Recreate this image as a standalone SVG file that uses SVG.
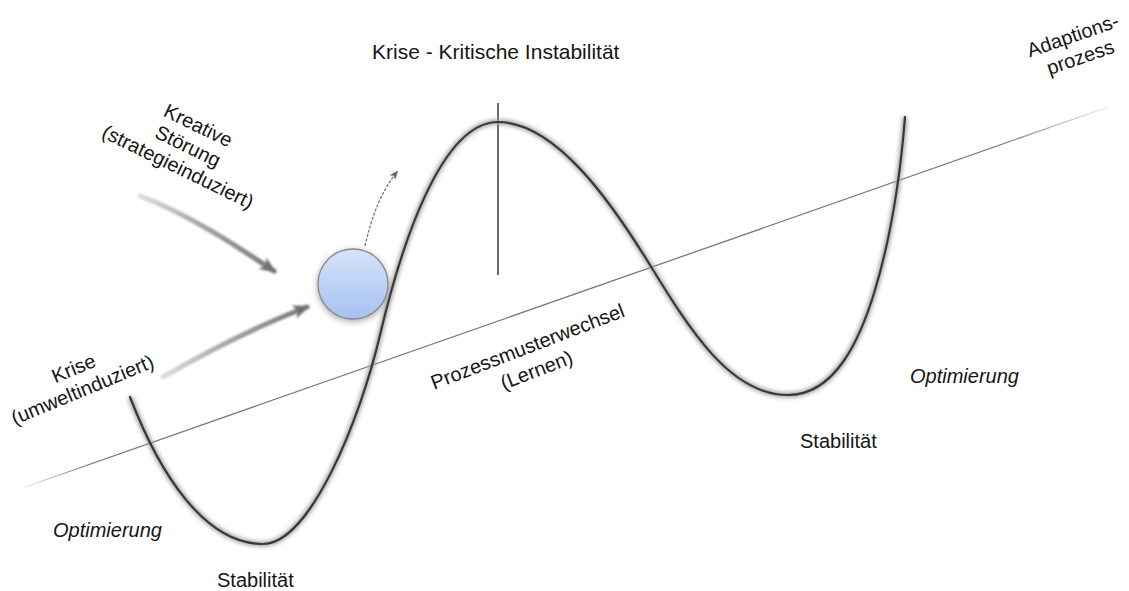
<svg xmlns="http://www.w3.org/2000/svg" width="1129" height="591" viewBox="0 0 1129 591">
<style>
text{font-family:"Liberation Sans",Arial,sans-serif;font-size:20px;fill:#151515}
.it{font-style:italic}
.big{font-size:21px}
.wave{fill:none;stroke:#383838;stroke-width:2.2;stroke-linecap:round}
.shadow{fill:none;stroke:#a0a0a0;stroke-width:5;filter:url(#blur)}
.arrow{fill:none;stroke:url(#arrowGrad);stroke-width:5;stroke-linecap:round;filter:url(#soft)}
</style>
<defs>
<filter id="blur" x="-10%" y="-10%" width="120%" height="120%"><feGaussianBlur stdDeviation="2"/></filter>
<filter id="soft" x="-20%" y="-20%" width="140%" height="140%"><feGaussianBlur stdDeviation="1.2"/></filter>
<filter id="cshadow" x="-30%" y="-30%" width="160%" height="160%"><feGaussianBlur stdDeviation="3"/></filter>
<linearGradient id="ball" x1="0" y1="0" x2="0" y2="1">
<stop offset="0" stop-color="#d6e3f9"/><stop offset="1" stop-color="#a6c1f2"/>
</linearGradient>
<linearGradient id="arrowGrad" x1="0" y1="0" x2="1" y2="0">
<stop offset="0" stop-color="#dcdcdc"/><stop offset="0.4" stop-color="#a8a8a8"/><stop offset="1" stop-color="#777"/>
</linearGradient>
<linearGradient id="baseGrad" gradientUnits="userSpaceOnUse" x1="25" y1="487" x2="1108" y2="107">
<stop offset="0" stop-color="#888" stop-opacity="0.2"/><stop offset="0.06" stop-color="#7a7a7a"/><stop offset="0.9" stop-color="#7a7a7a"/><stop offset="1" stop-color="#999" stop-opacity="0.2"/>
</linearGradient>
<marker id="head" viewBox="0 0 10 10" refX="8" refY="5" markerWidth="3.5" markerHeight="3.5" orient="auto" markerUnits="strokeWidth">
<path d="M0,1 L10,5 L0,9 L2.5,5 Z" fill="#707070"/>
</marker>
<marker id="headThin" viewBox="0 0 10 10" refX="8" refY="5" markerWidth="7" markerHeight="7" orient="auto" markerUnits="strokeWidth">
<path d="M0,1 L10,5 L0,9 L2.5,5 Z" fill="#666"/>
</marker>
</defs>
<rect width="1129" height="591" fill="#fff"/>

<g id="baseline">
<line x1="25" y1="487" x2="1108" y2="107" stroke="url(#baseGrad)" stroke-width="1.3"/>
</g>

<g id="vertical-axis">
<line x1="498" y1="103" x2="498" y2="275" stroke="#444" stroke-width="1.6"/>
</g>

<g id="wave">
<path class="shadow" d="M130,397 C160,475 205,544 263,544 C310,544 360,420 380,335 C400,250 440,122 498,122 C555,122 610,200 650,265 C690,330 730,395 788,395 C835,395 860,340 875,290 C890,240 900,180 905,117"/>
<path class="wave" d="M130,397 C160,475 205,544 263,544 C310,544 360,420 380,335 C400,250 440,122 498,122 C555,122 610,200 650,265 C690,330 730,395 788,395 C835,395 860,340 875,290 C890,240 900,180 905,117"/>
</g>

<g id="connectors">
<path class="arrow" d="M140,196 C190,215 235,245 274,271" marker-end="url(#head)"/>
<path class="arrow" d="M163,377 C210,350 260,325 307,307" marker-end="url(#head)"/>
<path d="M365,246 C372,215 382,190 397,172" fill="none" stroke="#777" stroke-width="1.3" stroke-dasharray="3,1.5" marker-end="url(#headThin)"/>
</g>

<g id="ball-node">
<circle cx="353" cy="286" r="36" fill="#777" opacity="0.6" filter="url(#cshadow)"/>
<circle cx="353" cy="284" r="35" fill="url(#ball)" stroke="#8a8a8a" stroke-width="1.3"/>
</g>

<g id="title"><text class="big" x="372" y="59">Krise - Kritische Instabilität</text></g>

<g id="kreative-stoerung">
<text transform="translate(175,173) rotate(26)" text-anchor="middle"><tspan x="0" y="-46">Kreative</tspan><tspan x="0" y="-23">Störung</tspan><tspan x="0" y="0">(strategieinduziert)</tspan></text>
</g>

<g id="krise-umwelt">
<text transform="translate(85,396) rotate(-22.5)" text-anchor="middle"><tspan x="0" y="-23">Krise</tspan><tspan x="0" y="0">(umweltinduziert)</tspan></text>
</g>

<g id="prozessmuster">
<text transform="translate(530,353) rotate(-21)" text-anchor="middle"><tspan x="0" y="0">Prozessmusterwechsel</tspan><tspan x="0" y="25">(Lernen)</tspan></text>
</g>

<g id="adaptionsprozess">
<text transform="translate(1075,42) rotate(-19)" text-anchor="middle"><tspan x="0" y="0">Adaptions-</tspan><tspan x="0" y="23">prozess</tspan></text>
</g>

<g id="optimierung-left"><text class="it" x="53" y="537">Optimierung</text></g>
<g id="stabilitaet-left"><text x="217" y="587">Stabilität</text></g>
<g id="optimierung-right"><text class="it" x="910" y="383">Optimierung</text></g>
<g id="stabilitaet-right"><text x="800" y="448">Stabilität</text></g>
</svg>
